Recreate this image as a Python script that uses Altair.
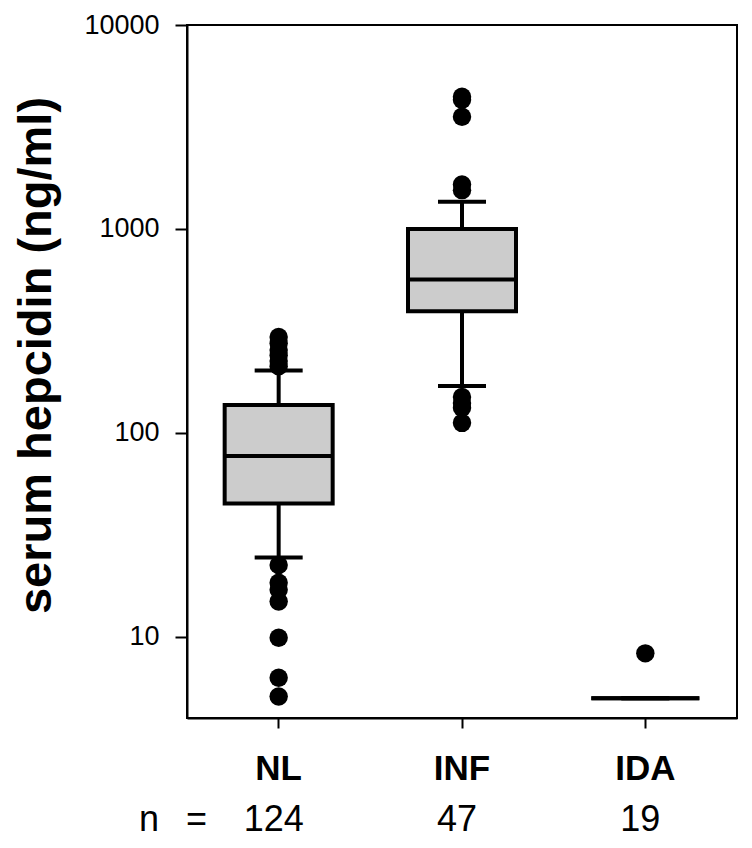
import altair as alt
import pandas as pd

groups = ["NL", "INF", "IDA"]
n_counts = [124, 47, 19]
q1 = [45, 395, 5]
median = [77, 565, 5]
q3 = [137, 1000, 5]
whisker_low = [24.5, 170, 5]
whisker_high = [202, 1360, 5]

nl_outliers = [295, 275, 255, 240, 225, 212, 22.5, 18.4, 17, 14.9, 9.9, 6.3, 5.1]
inf_outliers = [4450, 4300, 3550, 1650, 1550, 150, 140, 133, 112]
ida_outliers = [8.3]

y_ticks = [10, 100, 1000, 10000]

summary = pd.DataFrame({
    "group": groups, "n": n_counts, "q1": q1, "median": median, "q3": q3,
    "wlo": whisker_low, "whi": whisker_high,
})
outliers = pd.DataFrame({
    "group": ["NL"] * len(nl_outliers) + ["INF"] * len(inf_outliers) + ["IDA"] * len(ida_outliers),
    "value": nl_outliers + inf_outliers + ida_outliers,
})

FONT = "Liberation Sans"
TITLE = "serum hepcidin (ng/ml)"

xenc = alt.X(
    "group:N", sort=groups, title=None,
    scale=alt.Scale(type="band", domain=groups, paddingInner=0, paddingOuter=0),
    axis=alt.Axis(labelAngle=0, labelFont=FONT, labelFontSize=35, labelFontWeight="bold",
                  labelColor="black", tickSize=10, labelPadding=23, ticks=True, domain=True),
)
yscale = alt.Scale(type="log", domain=[4, 10000], nice=False)
yaxis = alt.Axis(values=y_ticks, format="d", labelFont=FONT, labelFontSize=27, labelColor="black",
                 tickSize=12, labelPadding=16, title=TITLE, titleFont=FONT, titleFontSize=47,
                 titleFontWeight="bold", titleColor="black", titleAngle=-90,
                 titleBaseline="middle", titleAlign="center", titleX=-151, titleY=330)


def Y(field):
    return alt.Y(f"{field}:Q", scale=yscale, axis=yaxis, title=TITLE)


base = alt.Chart(summary)

whisk_lo = base.mark_rule(color="black", strokeWidth=4).encode(x=xenc, y=Y("wlo"), y2="q1:Q")
whisk_hi = base.mark_rule(color="black", strokeWidth=4).encode(x=xenc, y=Y("q3"), y2="whi:Q")
box = base.mark_bar(size=108, fill="#cccccc", stroke="black", strokeWidth=4).encode(
    x=xenc, y=Y("q1"), y2="q3:Q")
med = base.mark_tick(size=108, thickness=4, color="black", opacity=1).encode(x=xenc, y=Y("median"))
cap_lo = base.mark_tick(size=48, thickness=4, color="black", opacity=1).encode(x=xenc, y=Y("wlo"))
cap_hi = base.mark_tick(size=48, thickness=4, color="black", opacity=1).encode(x=xenc, y=Y("whi"))
pts = alt.Chart(outliers).mark_circle(size=340, color="black", opacity=1).encode(x=xenc, y=Y("value"))

ntext = base.mark_text(font=FONT, fontSize=36, color="black", baseline="alphabetic", dx=-5).encode(
    x=xenc, y=alt.value(806), text="n:Q")
one = pd.DataFrame({"k": [0]})
n_lab = alt.Chart(one).mark_text(text="n", font=FONT, fontSize=36, color="black",
                                 baseline="alphabetic").encode(x=alt.value(-38), y=alt.value(806))
eq_lab = alt.Chart(one).mark_text(text="=", font=FONT, fontSize=36, color="black",
                                  baseline="alphabetic").encode(x=alt.value(9.5), y=alt.value(806))

chart = alt.layer(whisk_lo, whisk_hi, box, med, cap_lo, cap_hi, pts, ntext, n_lab, eq_lab).properties(
    width=550, height=693,
    autosize=alt.AutoSizeParams(type="none"),
    padding={"left": 179, "top": 17, "right": 7, "bottom": 122},
).configure_axis(
    grid=False, domainColor="black", domainWidth=2, tickColor="black", tickWidth=2,
).configure_view(stroke="black", strokeWidth=2)

chart.save("out.html", embed_options={"renderer": "svg", "actions": False})
